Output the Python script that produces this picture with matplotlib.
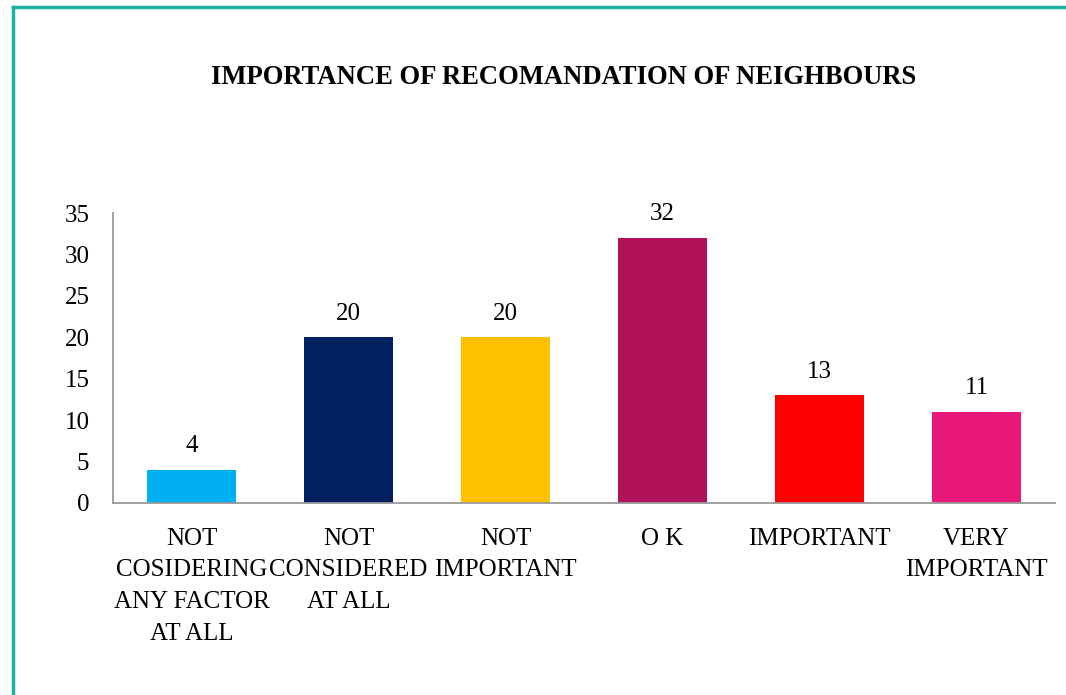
import matplotlib.pyplot as plt
from matplotlib.lines import Line2D

# survey answers and counts
categories = [
    "NOT\nCOSIDERING\nANY FACTOR\nAT ALL",
    "NOT\nCONSIDERED\nAT ALL",
    "NOT\nIMPORTANT",
    "O K",
    "IMPORTANT",
    "VERY\nIMPORTANT",
]
counts = [4, 20, 20, 32, 13, 11]
bar_colors = ["#00B0F0", "#002060", "#FFC000", "#B01359", "#FF0000", "#E8197B"]

plt.rcParams['font.family'] = ['Liberation Serif', 'DejaVu Serif']

fig = plt.figure(figsize=(10.66, 6.95), dpi=100)
ax = fig.add_axes([0.106, 0.2763, 0.8837, 0.4172])

x = list(range(len(counts)))
bars = ax.bar(x, counts, width=0.573, color=bar_colors)

for rect, val in zip(bars, counts):
    ax.annotate(str(val), (rect.get_x() + rect.get_width() / 2, val),
                xytext=(0, 9), textcoords="offset points",
                ha="center", va="bottom", fontsize=18)

ax.set_xlim(-0.5, len(counts) - 0.5)
ax.set_ylim(0, 35)
ax.set_yticks(range(0, 36, 5))
ax.set_xticks(x)
ax.set_xticklabels(categories, fontsize=18, linespacing=1.56)
ax.tick_params(axis="y", length=0, pad=17, labelsize=18)
ax.tick_params(axis="x", length=0, pad=18)

for side in ["top", "right"]:
    ax.spines[side].set_visible(False)
for side in ["left", "bottom"]:
    ax.spines[side].set_color("#999999")
    ax.spines[side].set_linewidth(1.3)

fig.text(0.529, 0.889, "IMPORTANCE OF RECOMANDATION OF NEIGHBOURS",
         ha="center", va="center", fontsize=19.2, fontweight="bold")

# teal frame along the top and left edges
teal = "#1AB39F"
fig.add_artist(Line2D([0.0125, 1.0], [0.99, 0.99], color=teal, lw=2.5,
                      transform=fig.transFigure))
fig.add_artist(Line2D([0.0125, 0.0125], [0.0, 0.99], color=teal, lw=2.5,
                      transform=fig.transFigure))

fig.savefig("out.png", dpi=100)
